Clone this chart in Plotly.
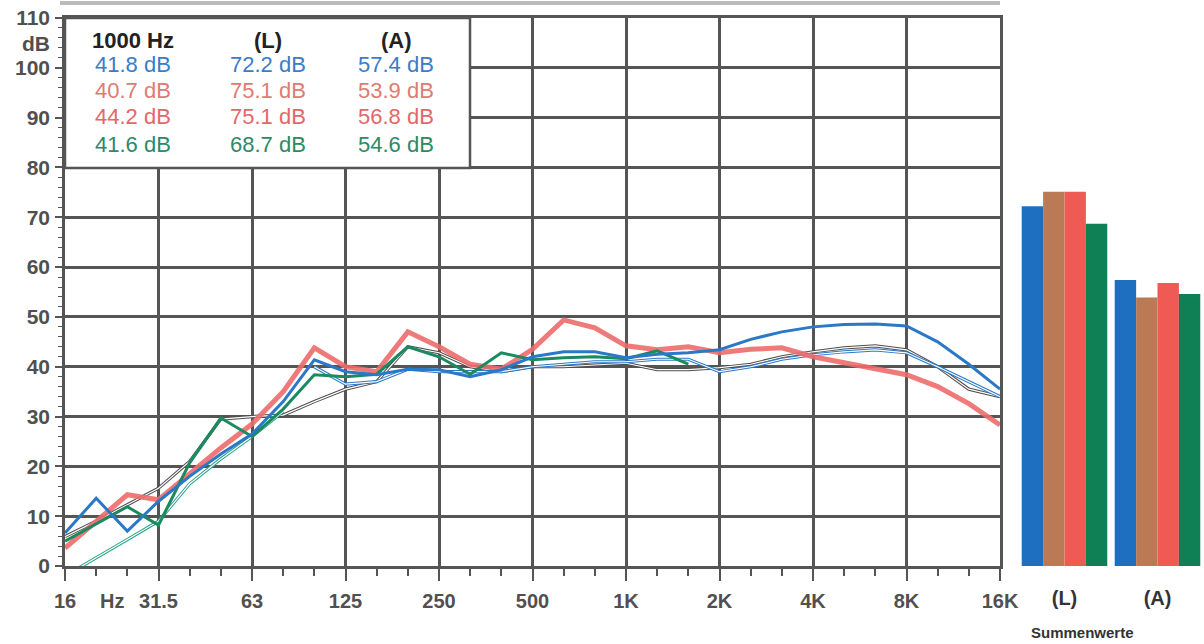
import plotly.graph_objects as go

# ---- data ----
bands = ["16", "20", "25", "31.5", "40", "50", "63", "80", "100", "125", "160", "200",
         "250", "315", "400", "500", "630", "800", "1K", "1.25K", "1.6K", "2K", "2.5K",
         "3.15K", "4K", "5K", "6.3K", "8K", "10K", "12.5K", "16K"]
octave_labels = ["16", "31.5", "63", "125", "250", "500", "1K", "2K", "4K", "8K", "16K"]

blue = [6.6, 13.6, 7.0, 13.0, 18.0, 22.5, 26.5, 33.0, 41.4, 39.0, 38.4, 39.5, 39.4, 38.0,
        39.4, 42.0, 43.0, 43.0, 41.8, 42.5, 42.8, 43.4, 45.5, 47.0, 48.0, 48.5, 48.6, 48.2,
        45.0, 40.5, 35.5]
blue_thin = [None, None, None, None, None, None, None, None, 40.0, 36.5, 37.0, 39.5, 39.0,
             39.0, 39.0, 40.0, 40.5, 41.0, 41.0, 41.5, 41.5, 39.0, 40.0, 41.5, 42.4, 43.0,
             43.4, 42.8, 40.0, 37.0, 34.0]
brown = [5.9, 9.0, 12.3, 15.6, 21.0, 29.5, 30.0, 30.3, 33.0, 35.5, 37.0, 44.0, 42.8, 40.0,
         39.0, 40.0, 40.0, 40.3, 40.7, 39.4, 39.4, 39.8, 40.5, 42.0, 43.0, 43.8, 44.2, 43.4,
         40.0, 35.5, 34.0]
red = [3.6, 9.0, 14.3, 13.3, 18.5, 23.7, 28.5, 35.0, 43.8, 40.0, 39.0, 47.0, 44.0, 40.5,
       39.5, 43.5, 49.4, 47.8, 44.2, 43.4, 44.0, 42.8, 43.5, 43.8, 42.0, 40.8, 39.8, 38.4,
       36.0, 32.6, 28.3]
green = [5.0, 8.5, 11.9, 8.2, 20.7, 29.7, 26.0, 31.5, 38.4, 38.0, 38.5, 44.0, 42.0, 38.5,
         42.8, 41.4, 41.8, 42.0, 41.6, 43.2, 40.5, None, None, None, None, None, None, None,
         None, None, None]
teal = [-2.0, 1.6, 5.3, 9.0, 16.5, 21.5, 26.0, 31.0, None, None, None, None, None, None,
        None, None, None, None, None, None, None, None, None, None, None, None, None, None,
        None, None, None]

sum_labels = ["(L)", "(A)"]
sum_blue = [72.2, 57.4]
sum_brown = [75.1, 53.9]
sum_red = [75.1, 56.8]
sum_green = [68.7, 54.6]

hz1000 = ["41.8 dB", "40.7 dB", "44.2 dB", "41.6 dB"]
col_L = ["72.2 dB", "75.1 dB", "75.1 dB", "68.7 dB"]
col_A = ["57.4 dB", "53.9 dB", "56.8 dB", "54.6 dB"]

# ---- style ----
W, H = 1204, 644
GRID = "#555555"
C_BLUE = "#2a78c6"
C_RED = "#ee6c6c"
C_GREEN = "#1b8a5e"
C_TEAL = "#2aa38a"
C_GREY = "#4e4e4e"
TXT_COLORS = ["#3a7cc8", "#e07a72", "#e26868", "#2b8a68"]
BAR_COLORS = ["#1e6fc0", "#b97a55", "#f05a55", "#0f7f55"]
FONT = "Liberation Sans, Arial, sans-serif"

x_idx = list(range(len(bands)))

fig = go.Figure()


def outlined(y, color, w=3.5):
    fig.add_trace(go.Scatter(x=x_idx, y=y, mode="lines", line=dict(color=color, width=w),
                             hoverinfo="skip", showlegend=False))
    fig.add_trace(go.Scatter(x=x_idx, y=y, mode="lines", line=dict(color="white", width=1.2),
                             hoverinfo="skip", showlegend=False))


outlined(brown, C_GREY, 3.2)
outlined(blue_thin, C_BLUE, 3.2)
outlined(teal, C_TEAL, 3.2)
fig.add_trace(go.Scatter(x=x_idx, y=red, mode="lines", line=dict(color=C_RED, width=5),
                         opacity=0.9, showlegend=False))
fig.add_trace(go.Scatter(x=x_idx, y=green, mode="lines", line=dict(color=C_GREEN, width=3),
                         showlegend=False))
fig.add_trace(go.Scatter(x=x_idx, y=blue, mode="lines", line=dict(color=C_BLUE, width=3),
                         showlegend=False))

for vals, c in zip([sum_blue, sum_brown, sum_red, sum_green], BAR_COLORS):
    fig.add_trace(go.Bar(x=sum_labels, y=vals, xaxis="x2", yaxis="y2",
                         marker=dict(color=c, line=dict(width=0)), showlegend=False))

x0p, x1p = 65 / W, 1000 / W
y0p, y1p = 1 - 566 / H, 1 - 18 / H

fig.update_layout(
    width=W, height=H,
    margin=dict(l=0, r=0, t=0, b=0, autoexpand=False),
    paper_bgcolor="white", plot_bgcolor="white",
    showlegend=False,
    barmode="group", bargap=0.08, bargroupgap=0,
    xaxis=dict(domain=[x0p, x1p], range=[0, len(bands) - 1], automargin=False,
               tickvals=x_idx[::3], ticktext=octave_labels,
               ticks="outside", ticklen=12, tickwidth=2, tickcolor=GRID,
               minor=dict(tickvals=[i for i in x_idx if i % 3], ticks="outside",
                          ticklen=7, tickwidth=1.5, tickcolor=GRID, showgrid=False),
               showgrid=True, gridcolor=GRID, gridwidth=2.5,
               showline=True, mirror=True, linecolor=GRID, linewidth=2.5,
               zeroline=False, ticklabelstandoff=3,
               tickfont=dict(family=FONT, size=20, color="#505050", weight="bold")),
    yaxis=dict(domain=[y0p, y1p], range=[0, 110], dtick=10, automargin=False,
               ticks="outside", ticklen=7, tickwidth=2, tickcolor=GRID,
               minor=dict(dtick=2, ticks="outside", ticklen=4, tickwidth=1.2,
                          tickcolor=GRID, showgrid=False),
               showgrid=True, gridcolor=GRID, gridwidth=2.5,
               showline=True, mirror=True, linecolor=GRID, linewidth=2.5,
               zeroline=False, ticklabelstandoff=1,
               tickfont=dict(family=FONT, size=21, color="#505050", weight="bold")),
    xaxis2=dict(domain=[1018 / W, 1.0], anchor="y2", type="category", automargin=False,
                showgrid=False, showline=False, ticks="", zeroline=False,
                ticklabelstandoff=18,
                tickfont=dict(family=FONT, size=20, color="#333333", weight="bold")),
    yaxis2=dict(domain=[y0p, y1p], anchor="x2", range=[0, 110], visible=False,
                automargin=False),
)

# summary box (over the upper-left grid area)
box_right = 470 / W
fig.add_shape(type="rect", xref="paper", yref="paper",
              x0=x0p, x1=box_right, y0=1 - 168 / H, y1=y1p,
              fillcolor="white", line=dict(color=GRID, width=2.5), layer="above")
# scan edge line at the top
fig.add_shape(type="line", xref="paper", yref="paper", x0=60 / W, x1=1000 / W,
              y0=1 - 3 / H, y1=1 - 3 / H, line=dict(color="#bbbbbb", width=4))


def label(px, py, text, size, color, bold=False):
    fig.add_annotation(x=px / W, y=1 - py / H, xref="paper", yref="paper", text=text,
                       xanchor="center", yanchor="middle", showarrow=False,
                       font=dict(family=FONT, size=size, color=color,
                                 weight="bold" if bold else "normal"))


col_x = [133, 268, 396]
for cx, t in zip(col_x, ["1000 Hz", "(L)", "(A)"]):
    label(cx, 40, t, 22, "#222222", True)
row_y = [65, 91, 117, 145]
for r, (a, b, c, col) in enumerate(zip(hz1000, col_L, col_A, TXT_COLORS)):
    for cx, t in zip(col_x, [a, b, c]):
        label(cx, row_y[r], t, 22, col)

label(36, 43, "dB", 21, "#505050", True)
label(112, 601, "Hz", 20, "#505050", True)
label(1082, 632, "Summenwerte", 15, "#333333", True)

fig.write_html("out.html")
